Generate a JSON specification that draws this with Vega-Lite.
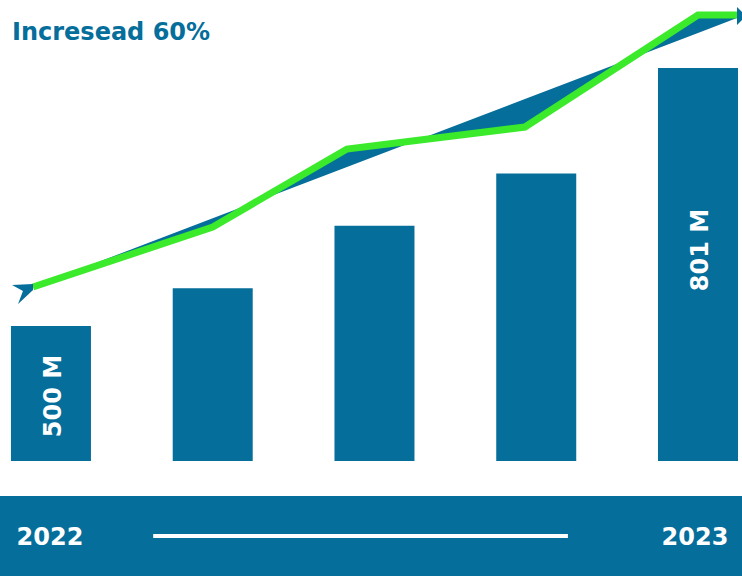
{
  "$schema": "https://vega.github.io/schema/vega-lite/v6.json",
  "padding": 0,
  "spacing": 35,
  "background": "white",
  "config": {"view": {"stroke": null}, "font": "DejaVu Sans"},
  "datasets": {
    "bars": [
      {"i": 1, "v": 500, "label": "500 M"},
      {"i": 2, "v": 544, "label": ""},
      {"i": 3, "v": 617, "label": ""},
      {"i": 4, "v": 678, "label": ""},
      {"i": 5, "v": 801, "label": "801 M"}
    ],
    "trend": [
      {"i": 0.889, "g": 545.5, "s": 545.5},
      {"i": 2.0, "g": 615.5, "s": 625.8},
      {"i": 2.83, "g": 706.5, "s": 685.5},
      {"i": 3.93, "g": 732.2, "s": 764.9},
      {"i": 5.0, "g": 862.9, "s": 841.9},
      {"i": 5.241, "g": 862.9, "s": 859.4}
    ],
    "years": [
      {"year": 2022, "label": "2022"},
      {"year": 2023, "label": "2023"}
    ]
  },
  "vconcat": [
    {
      "width": 742,
      "height": 461,
      "title": {"text": "Incresead 60%", "anchor": "start", "orient": "top", "offset": -42, "dx": 12, "dy": 22, "fontSize": 24, "fontWeight": "bold", "color": "#056e9b", "font": "DejaVu Sans", "baseline": "alphabetic", "frame": "group"},
      "layer": [
        {
          "data": {"name": "bars"},
          "mark": {"type": "bar", "size": 80, "color": "#056e9b"},
          "encoding": {
            "x": {"field": "i", "type": "quantitative", "scale": {"domain": [0.685, 5.272], "nice": false, "zero": false, "padding": 0}, "axis": null},
            "y": {"field": "v", "type": "quantitative", "scale": {"domain": [342.5, 880.4], "nice": false, "zero": false, "padding": 0}, "axis": null},
            "y2": {"datum": 342.5}
          }
        },
        {
          "data": {"name": "trend"},
          "mark": {"type": "area", "color": "#056e9b", "opacity": 1},
          "encoding": {
            "x": {"field": "i", "type": "quantitative"},
            "y": {"field": "g", "type": "quantitative"},
            "y2": {"field": "s"}
          }
        },
        {
          "data": {"name": "trend"},
          "mark": {"type": "line", "color": "#3aea2b", "strokeWidth": 7, "strokeJoin": "miter", "strokeCap": "butt"},
          "encoding": {
            "x": {"field": "i", "type": "quantitative"},
            "y": {"field": "g", "type": "quantitative"}
          }
        },
        {
          "data": {"values": [{"i": 5.241, "g": 861.7}]},
          "mark": {"type": "point", "shape": "M0,-1L1,0L0,1Z", "size": 324, "filled": true, "color": "#056e9b", "opacity": 1},
          "encoding": {
            "x": {"field": "i", "type": "quantitative"},
            "y": {"field": "g", "type": "quantitative"}
          }
        },
        {
          "data": {"values": [{"i": 0.821, "g": 539.7}]},
          "mark": {"type": "point", "shape": "M-0.83,-0.58L0.92,-0.67L0.92,-0.17L-0.33,1L0.08,-0.08Z", "size": 576, "filled": true, "color": "#056e9b", "opacity": 1},
          "encoding": {
            "x": {"field": "i", "type": "quantitative"},
            "y": {"field": "g", "type": "quantitative"}
          }
        },
        {
          "data": {"name": "bars"},
          "transform": [{"filter": "datum.i == 1"}],
          "mark": {"type": "text", "angle": 270, "align": "center", "baseline": "middle", "fontSize": 24, "fontWeight": "bold", "color": "white", "dy": 3},
          "encoding": {
            "x": {"field": "i", "type": "quantitative"},
            "y": {"datum": 418.3},
            "text": {"field": "label"}
          }
        },
        {
          "data": {"name": "bars"},
          "transform": [{"filter": "datum.i == 5"}],
          "mark": {"type": "text", "angle": 270, "align": "center", "baseline": "middle", "fontSize": 24, "fontWeight": "bold", "color": "white", "dy": 3},
          "encoding": {
            "x": {"field": "i", "type": "quantitative"},
            "y": {"datum": 588.7},
            "text": {"field": "label"}
          }
        }
      ]
    },
    {
      "width": 742,
      "height": 80,
      "view": {"fill": "#056e9b", "stroke": null},
      "layer": [
        {
          "data": {"values": [{}]},
          "mark": {"type": "rule", "color": "white", "strokeWidth": 4, "strokeCap": "butt"},
          "encoding": {
            "x": {"datum": 2022.16, "type": "quantitative", "scale": {"domain": [2021.9225, 2023.0729], "nice": false, "zero": false}, "axis": null},
            "x2": {"datum": 2022.803},
            "y": {"datum": 0, "type": "quantitative", "scale": {"domain": [-1, 1], "nice": false, "zero": false}, "axis": null}
          }
        },
        {
          "data": {"name": "years"},
          "mark": {"type": "text", "fontSize": 24, "fontWeight": "bold", "color": "white", "align": "center", "baseline": "middle", "dy": 2},
          "encoding": {
            "x": {"field": "year", "type": "quantitative"},
            "y": {"datum": 0, "type": "quantitative"},
            "text": {"field": "label"}
          }
        }
      ]
    }
  ]
}
